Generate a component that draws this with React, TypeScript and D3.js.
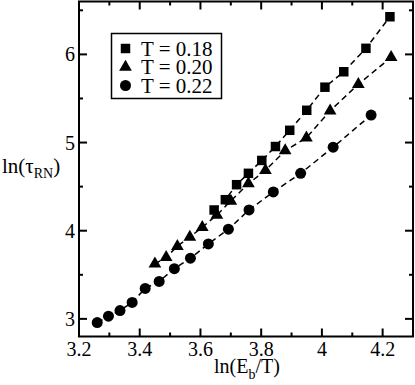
import React, { useEffect, useRef } from 'react';
import * as d3 from 'd3';

const xT018 = [3.645, 3.682, 3.719, 3.758, 3.802, 3.847, 3.894, 3.950, 4.010, 4.072, 4.145, 4.224];
const yT018 = [4.235, 4.352, 4.522, 4.651, 4.797, 4.955, 5.139, 5.366, 5.628, 5.803, 6.069, 6.427];

const xT020 = [3.450, 3.487, 3.524, 3.565, 3.606, 3.654, 3.700, 3.758, 3.814, 3.879, 3.949, 4.027, 4.120, 4.228];
const yT020 = [3.623, 3.699, 3.824, 3.929, 4.039, 4.178, 4.337, 4.534, 4.685, 4.908, 5.054, 5.361, 5.661, 5.967];

const xT022 = [3.260, 3.297, 3.335, 3.375, 3.418, 3.464, 3.514, 3.567, 3.626, 3.692, 3.760, 3.840, 3.930, 4.037, 4.162];
const yT022 = [2.958, 3.031, 3.094, 3.187, 3.345, 3.425, 3.569, 3.688, 3.850, 4.017, 4.236, 4.440, 4.651, 4.947, 5.312];

const legendLabels = ['T = 0.18', 'T = 0.20', 'T = 0.22'];
const xTicks = [3.2, 3.4, 3.6, 3.8, 4, 4.2];
const xMinor = [3.3, 3.5, 3.7, 3.9, 4.1];
const yTicks = [3, 4, 5, 6];
const yMinor = [3.5, 4.5, 5.5, 6.5];

const App = () => {
  const ref = useRef<SVGSVGElement>(null);
  const width = 415;
  const height = 385;
  const margin = { top: 1.5, right: 2, bottom: 48.5, left: 79 };
  const font = "'Liberation Serif', 'Times New Roman', serif";

  useEffect(() => {
    const svg = d3.select(ref.current);
    svg.selectAll('*').remove();

    const x = d3.scaleLinear([3.2, 4.3], [margin.left, width - margin.right]);
    const y = d3.scaleLinear([2.8, 6.6], [height - margin.bottom, margin.top]);

    const series = [
      { xs: xT018, ys: yT018, type: d3.symbolSquare, size: 90 },
      { xs: xT020, ys: yT020, type: d3.symbolTriangle, size: 70 },
      { xs: xT022, ys: yT022, type: d3.symbolCircle, size: 95 },
    ];

    const line = d3.line<[number, number]>()
      .x(d => x(d[0]))
      .y(d => y(d[1]));

    // dashed guides + markers
    series.forEach(s => {
      const pts: [number, number][] = s.xs.map((v, i) => [v, s.ys[i]]);
      svg.append('path')
        .datum(pts)
        .attr('fill', 'none')
        .attr('stroke', '#000')
        .attr('stroke-width', 1.5)
        .attr('stroke-dasharray', '6,4')
        .attr('d', line);
      svg.append('g')
        .selectAll('path')
        .data(pts).enter()
        .append('path')
        .attr('d', d3.symbol(s.type, s.size)())
        .attr('fill', '#000')
        .attr('transform', d => `translate(${x(d[0])},${y(d[1])})`);
    });

    // frame
    const x0 = x(3.2), x1 = x(4.3), y0 = y(2.8), y1 = y(6.6);
    svg.append('rect')
      .attr('x', x0).attr('y', y1)
      .attr('width', x1 - x0).attr('height', y0 - y1)
      .attr('fill', 'none').attr('stroke', '#000').attr('stroke-width', 2);

    // ticks (inward, all four sides)
    const ticks = svg.append('g').attr('stroke', '#000').attr('stroke-width', 2);
    const xt = [...xTicks.map(v => [v, 8]), ...xMinor.map(v => [v, 4])];
    xt.forEach(([v, len]) => {
      ticks.append('line').attr('x1', x(v)).attr('x2', x(v)).attr('y1', y0).attr('y2', y0 - len);
      ticks.append('line').attr('x1', x(v)).attr('x2', x(v)).attr('y1', y1).attr('y2', y1 + len);
    });
    const yt = [...yTicks.map(v => [v, 8]), ...yMinor.map(v => [v, 4])];
    yt.forEach(([v, len]) => {
      ticks.append('line').attr('y1', y(v)).attr('y2', y(v)).attr('x1', x0).attr('x2', x0 + len);
      ticks.append('line').attr('y1', y(v)).attr('y2', y(v)).attr('x1', x1).attr('x2', x1 - len);
    });

    svg.append('g')
      .selectAll('text')
      .data(xTicks).enter()
      .append('text')
      .attr('x', d => x(d))
      .attr('y', y0 + 19)
      .attr('text-anchor', 'middle')
      .attr('font-family', font)
      .attr('font-size', 20)
      .text(d => d3.format('')(d));

    svg.append('g')
      .selectAll('text')
      .data(yTicks).enter()
      .append('text')
      .attr('x', x0 - 4)
      .attr('y', d => y(d) + 7)
      .attr('text-anchor', 'end')
      .attr('font-family', font)
      .attr('font-size', 20)
      .text(d => d);

    // axis titles
    const xl = svg.append('text')
      .attr('x', 247).attr('y', 373)
      .attr('text-anchor', 'middle')
      .attr('font-family', font).attr('font-size', 20);
    xl.append('tspan').text('ln(E');
    xl.append('tspan').attr('font-size', 14).attr('dy', 6).text('b');
    xl.append('tspan').attr('dy', -6).text('/T)');

    const yl = svg.append('text')
      .attr('x', 2).attr('y', 173)
      .attr('font-family', font).attr('font-size', 21);
    yl.append('tspan').text('ln(τ');
    yl.append('tspan').attr('font-size', 14).attr('dy', 5).text('RN');
    yl.append('tspan').attr('dy', -5).text(')');

    // legend
    const lg = svg.append('g');
    lg.append('rect')
      .attr('x', 111.5).attr('y', 33.5).attr('width', 110).attr('height', 65)
      .attr('fill', '#fff').attr('stroke', '#000').attr('stroke-width', 1.5);
    series.forEach((s, i) => {
      const ry = 48.5 + i * 18.5;
      lg.append('path')
        .attr('d', d3.symbol(s.type, s.size)())
        .attr('transform', `translate(125.5,${ry})`);
      lg.append('text')
        .attr('x', 141).attr('y', ry + 7)
        .attr('font-family', font).attr('font-size', 21)
        .text(legendLabels[i]);
    });
  }, []);

  return (
    <svg ref={ref} width={width} height={height}
      style={{ position: 'absolute', left: 0, top: 0, background: '#fff' }} />
  );
};

export default App;
